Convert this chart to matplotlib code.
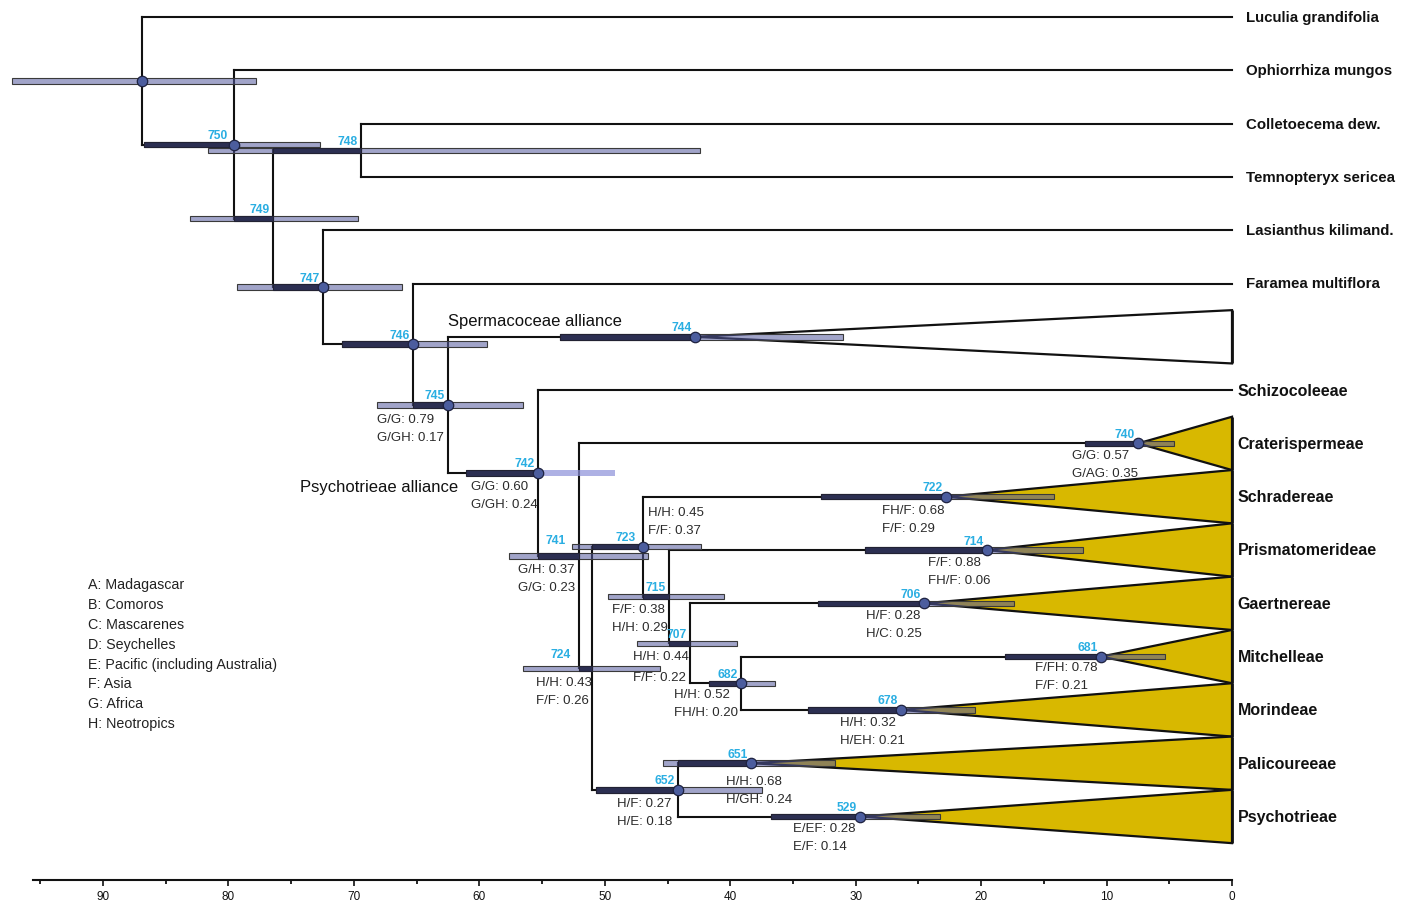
import matplotlib
matplotlib.use("Agg")
import numpy as np
import matplotlib.pyplot as plt
from matplotlib.patches import Polygon, Rectangle

plt.rcParams['font.family'] = ['Liberation Sans', 'DejaVu Sans']

# ---------------- data ----------------
node_ids = ["root", "750", "749", "748", "747", "746", "745", "744", "742", "741",
            "740", "724", "723", "722", "715", "714", "707", "706", "682", "681",
            "678", "652", "651", "529"]
node_ages = [86.87, 79.58, 76.45, 69.44, 72.47, 65.29, 62.50, 42.81, 55.33, 52.06,
             7.49, 51.02, 46.95, 22.80, 44.88, 19.53, 43.21, 24.55, 39.14, 10.44,
             26.39, 44.16, 38.35, 29.66]
# 95% HPD bars (young, old)
bar_young = [77.81, 72.70, 69.68, 42.41, 66.17, 59.39, 56.52, 31.01, 49.19, 46.56,
             4.62, 45.60, 42.33, 14.19, 40.50, 11.88, 39.46, 17.38, 36.43, 5.34,
             20.49, 37.47, 31.65, 23.28]
bar_old = [97.26, 86.73, 83.07, 81.63, 79.32, 70.95, 68.16, 53.57, 61.07, 57.64,
           11.72, 56.52, 52.61, 32.76, 49.74, 29.26, 47.43, 33.00, 41.69, 18.10,
           33.80, 50.70, 45.36, 36.75]
children = {
    "root": ["Luculia grandifolia", "750"],
    "750": ["Ophiorrhiza mungos", "749"],
    "749": ["748", "747"],
    "748": ["Colletoecema dew.", "Temnopteryx sericea"],
    "747": ["Lasianthus kilimand.", "746"],
    "746": ["Faramea multiflora", "745"],
    "745": ["744", "742"],
    "742": ["Schizocoleeae", "741"],
    "741": ["740", "724"],
    "724": ["723", "652"],
    "723": ["722", "715"],
    "715": ["714", "707"],
    "707": ["706", "682"],
    "682": ["681", "678"],
    "652": ["651", "529"],
}
clade_nodes = ["744", "740", "722", "714", "706", "681", "678", "651", "529"]
clade_names = ["", "Craterispermeae", "Schradereae", "Prismatomerideae", "Gaertnereae",
               "Mitchelleae", "Morindeae", "Palicoureeae", "Psychotrieae"]
clade_filled = [False, True, True, True, True, True, True, True, True]
tribe_style_tips = ["Schizocoleeae"]
circle_nodes = ["root", "750", "747", "746", "745", "744", "742", "740", "723", "722",
                "714", "706", "682", "681", "678", "652", "651", "529"]
soft_bar_nodes = ["742"]

prob_nodes = ["745", "742", "741", "724", "723", "715", "707", "682", "652", "651",
              "529", "740", "722", "714", "706", "681", "678"]
prob_line1 = ["G/G: 0.79", "G/G: 0.60", "G/H: 0.37", "H/H: 0.43", "H/H: 0.45", "F/F: 0.38",
              "H/H: 0.44", "H/H: 0.52", "H/F: 0.27", "H/H: 0.68", "E/EF: 0.28", "G/G: 0.57",
              "FH/F: 0.68", "F/F: 0.88", "H/F: 0.28", "F/FH: 0.78", "H/H: 0.32"]
prob_line2 = ["G/GH: 0.17", "G/GH: 0.24", "G/G: 0.23", "F/F: 0.26", "F/F: 0.37", "H/H: 0.29",
              "F/F: 0.22", "FH/H: 0.20", "H/E: 0.18", "H/GH: 0.24", "E/F: 0.14", "G/AG: 0.35",
              "F/F: 0.29", "FH/F: 0.06", "H/C: 0.25", "F/F: 0.21", "H/EH: 0.21"]
# layout of these annotation labels (left edge in Ma, vertical offsets in px below node)
prob_left_age = [68.16, 60.66, 56.88, 55.52, 46.56, 49.44, 47.76, 44.48, 49.04, 40.35,
                 35.00, 12.76, 27.90, 24.23, 29.18, 15.70, 31.25]
prob_dy1 = [14, 13, 13, 14, -35, 12, 13, 11, 13, 18, 12, 12, 13, 12, 12, 10, 12]
prob_dy2 = [32, 31, 31, 32, -17, 30, 34, 29, 31, 36, 30, 30, 31, 30, 30, 28, 30]
# node-number label shifts (px) where they differ from the default
num_shift = {"741": (-10, 6), "724": (-18, 5), "723": (-4, 0), "750": (-3, 0)}

legend_lines = ["A: Madagascar", "B: Comoros", "C: Mascarenes", "D: Seychelles",
                "E: Pacific (including Australia)", "F: Asia", "G: Africa", "H: Neotropics"]

major_ticks = [0, 10, 20, 30, 40, 50, 60, 70, 80, 90]
minor_ticks = [5, 15, 25, 35, 45, 55, 65, 75, 85, 95]

# ---------------- layout ----------------
PX = 12.544   # px per Ma
ROW = 53.3    # px per tip row
W, H = 1408, 904
AX_BOTTOM_PX = 881

fig = plt.figure(figsize=(W / 100, H / 100), dpi=100)
ax = fig.add_axes([0, (H - AX_BOTTOM_PX) / H, 1, AX_BOTTOM_PX / H])
ax.set_xlim(1232 / PX, (1232 - W) / PX)
ax.set_ylim((AX_BOTTOM_PX - 18) / ROW, -18 / ROW)

age = dict(zip(node_ids, node_ages))
clade_set = set(clade_nodes)

ypos = {}
xpos = {}
parent = {}
row_counter = [0]


def place(n):
    if n in children:
        ys = []
        for c in children[n]:
            parent[c] = n
            ys.append(place(c))
        ypos[n] = (min(ys) + max(ys)) / 2
        xpos[n] = age[n]
    else:
        ypos[n] = row_counter[0]
        row_counter[0] += 1
        xpos[n] = age[n] if n in age else 0.0
    return ypos[n]


place("root")

LW = 1.5
LC = '#111111'
for n, ch in children.items():
    ys = [ypos[c] for c in ch]
    ax.plot([xpos[n], xpos[n]], [min(ys), max(ys)], color=LC, lw=LW,
            solid_capstyle='projecting', zorder=2)
    for c in ch:
        ax.plot([xpos[n], xpos[c]], [ypos[c], ypos[c]], color=LC, lw=LW,
                solid_capstyle='projecting', zorder=2)

YEL = '#d8b800'
for cn, filled in zip(clade_nodes, clade_filled):
    y = ypos[cn]
    tri = Polygon([(xpos[cn], y), (0, y - 0.5), (0, y + 0.5)], closed=True,
                  facecolor=YEL if filled else 'white', edgecolor='#111111',
                  lw=1.6, joinstyle='miter', zorder=3)
    ax.add_patch(tri)
# heavier right edge of the collapsed clades
for cn in clade_nodes:
    y = ypos[cn]
    ax.plot([0, 0], [y - 0.5, y + 0.5], color='#111111', lw=2.0, zorder=3.5,
            solid_capstyle='butt')

BH = 5.5 / ROW
for n, yo, ol in zip(node_ids, bar_young, bar_old):
    y = ypos[n]
    if n in soft_bar_nodes:
        ax.add_patch(Rectangle((yo, y - BH / 2), ol - yo, BH,
                               facecolor=(0.55, 0.57, 0.85, 0.7), edgecolor='none',
                               zorder=4))
    else:
        ax.add_patch(Rectangle((yo, y - BH / 2), ol - yo, BH,
                               facecolor=(0.33, 0.35, 0.62, 0.55), edgecolor='#3a3a3a',
                               lw=0.8, zorder=4))
    if n in parent:
        lo = max(yo, xpos[n])
        hi = min(ol, xpos[parent[n]])
        if hi > lo:
            ax.add_patch(Rectangle((lo, y - BH / 2), hi - lo, BH,
                                   facecolor='#2c2f52', edgecolor='#222233',
                                   lw=0.8, zorder=5))

for n in circle_nodes:
    ax.plot(xpos[n], ypos[n], 'o', ms=7.5, mfc='#4c5d9e', mec='#1e2240', mew=0.9,
            zorder=6)

for n in node_ids:
    if n == "root":
        continue
    sx, sy = num_shift.get(n, (0, 0))
    ax.annotate(n, (xpos[n], ypos[n]), xytext=(-2.5 + sx * 0.72, 2.5 + sy * 0.72),
                textcoords='offset points', ha='right', va='bottom', color='#2aaee2',
                fontsize=8.7, fontweight='bold', zorder=7)

for n, t1, t2, la, d1, d2 in zip(prob_nodes, prob_line1, prob_line2, prob_left_age,
                                 prob_dy1, prob_dy2):
    for t, d in ((t1, d1), (t2, d2)):
        ax.annotate(t, (la, ypos[n]), xytext=(0, -d * 0.72), textcoords='offset points',
                    ha='left', va='center', fontsize=9.5, color='#2a2a2a', zorder=7)

for n in ypos:
    if n in children:
        continue
    if n in clade_set:
        name = clade_names[clade_nodes.index(n)]
        if name:
            ax.annotate(name, (0, ypos[n]), xytext=(4, 0), textcoords='offset points',
                        ha='left', va='center', fontsize=11.5, fontweight='bold',
                        color='#111111')
    elif n in tribe_style_tips:
        ax.annotate(n, (0, ypos[n]), xytext=(4, 0), textcoords='offset points',
                    ha='left', va='center', fontsize=11.5, fontweight='bold',
                    color='#111111')
    else:
        ax.annotate(n, (0, ypos[n]), xytext=(10, 0), textcoords='offset points',
                    ha='left', va='center', fontsize=10.8, fontweight='bold',
                    color='#111111')

ax.annotate("Spermacoceae alliance", (age["745"], ypos["744"]), xytext=(0, 12),
            textcoords='offset points', ha='left', va='center', fontsize=12,
            color='#111111')
ax.annotate("Psychotrieae alliance", (age["745"], ypos["742"]), xytext=(7, -10),
            textcoords='offset points', ha='right', va='center', fontsize=12,
            color='#111111')

for i, t in enumerate(legend_lines):
    ax.annotate(t, ((1232 - 88) / PX, (585 - 18) / ROW), xytext=(0, -i * 19.9 * 0.72),
                textcoords='offset points', ha='left', va='center', fontsize=10.3,
                color='#222222')

for s in ['top', 'left', 'right']:
    ax.spines[s].set_visible(False)
ax.spines['bottom'].set_bounds(0, 95.6)
ax.spines['bottom'].set_linewidth(1.5)
ax.spines['bottom'].set_color('#111111')
ax.set_xticks(major_ticks)
ax.set_xticklabels([str(t) for t in major_ticks],
                   fontfamily=['Liberation Sans Narrow', 'Liberation Sans', 'DejaVu Sans'],
                   fontsize=8.5)
ax.set_xticks(minor_ticks, minor=True)
ax.tick_params(axis='x', which='major', direction='out', length=4.5, width=1.2, pad=3,
               colors='#111111')
ax.tick_params(axis='x', which='minor', direction='out', length=3, width=1.2)
ax.set_yticks([])
ax.patch.set_alpha(0)

fig.savefig("out.png", dpi=100)
